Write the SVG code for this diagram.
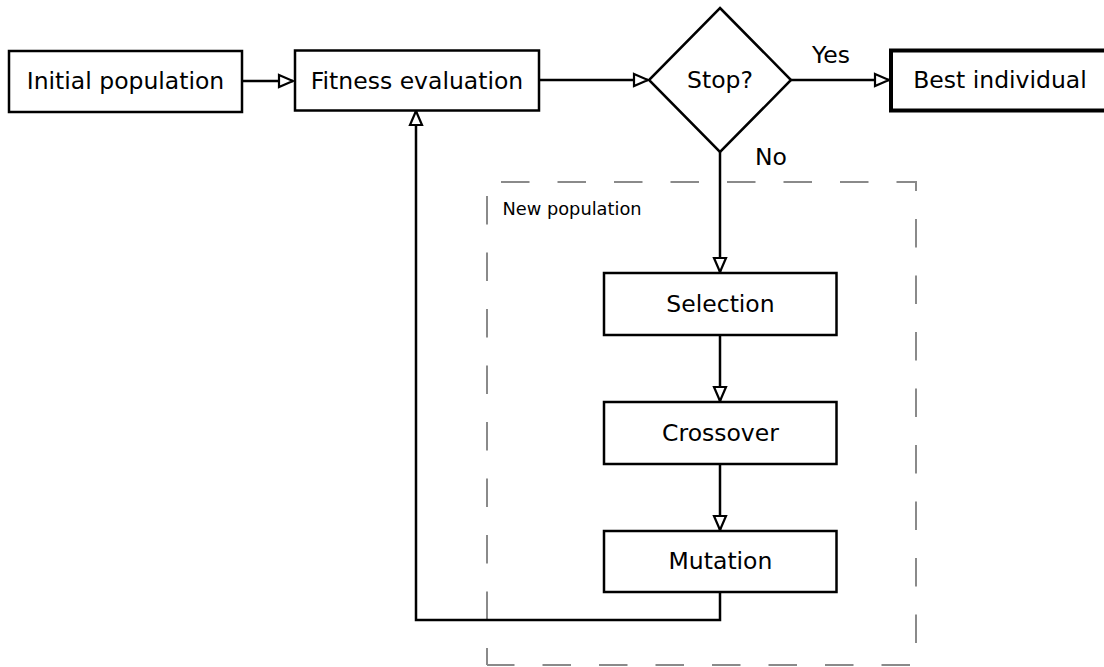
<svg xmlns="http://www.w3.org/2000/svg" width="1104" height="667" viewBox="0 0 1104 667">
  <style>
    .box { fill: #ffffff; stroke: #000000; stroke-width: 2.5; }
    .bold { stroke-width: 4; }
    .lbl { font-family: "DejaVu Sans", "Liberation Sans", sans-serif; font-size: 23.5px; fill: #000000; text-anchor: middle; }
    .small { font-family: "DejaVu Sans", "Liberation Sans", sans-serif; font-size: 17.8px; fill: #000000; }
    .edge { fill: none; stroke: #000000; stroke-width: 2.5; marker-end: url(#head); }
    .plain { fill: none; stroke: #000000; stroke-width: 2.5; }
    .group { fill: none; stroke: #8a8a8a; stroke-width: 2; stroke-dasharray: 28.5 28; stroke-dashoffset: 42.5; }
  </style>
  <defs>
    <marker id="head" markerUnits="userSpaceOnUse" viewBox="0 0 18 16" markerWidth="18" markerHeight="16" refX="16" refY="8" orient="auto">
      <path d="M2,2 L16,8 L2,14 Z" fill="#ffffff" stroke="#000000" stroke-width="2.2" stroke-linejoin="miter"/>
    </marker>
  </defs>

  <!-- cluster frame: top/right/bottom and left side dashed separately -->
  <g id="new-population">
    <path class="group" d="M487,182 H916 V665 H487 M487,182 V665"/>
    <text class="small" x="502.5" y="215">New population</text>
  </g>

  <g id="connectors">
    <path class="edge" d="M242,81 H293"/>
    <path class="edge" d="M539,80 H648"/>
    <path class="edge" d="M791,80 H889"/>
    <path class="edge" d="M720,152 V272"/>
    <path class="edge" d="M720,335 V401"/>
    <path class="edge" d="M720,464 V530"/>
    <path class="edge" d="M720,592 V620 H416 V111"/>
    <text class="lbl" x="831" y="63">Yes</text>
    <text class="lbl" x="771" y="165">No</text>
  </g>

  <g id="initial">
    <rect class="box" x="9" y="51" width="233" height="61"/>
    <text class="lbl" x="125.5" y="89">Initial population</text>
  </g>

  <g id="fitness">
    <rect class="box" x="295" y="50.5" width="244" height="60"/>
    <text class="lbl" x="417" y="88.5">Fitness evaluation</text>
  </g>

  <g id="stop">
    <polygon class="box" points="720,8 791,80 720,152 649,80"/>
    <text class="lbl" x="720" y="88">Stop?</text>
  </g>

  <g id="best">
    <rect class="box bold" x="891" y="50.5" width="225" height="60"/>
    <text class="lbl" x="1000" y="88">Best individual</text>
  </g>

  <g id="selection">
    <rect class="box" x="604" y="273" width="232.5" height="62"/>
    <text class="lbl" x="720.5" y="312">Selection</text>
  </g>

  <g id="crossover">
    <rect class="box" x="604" y="402" width="232.5" height="62"/>
    <text class="lbl" x="720.5" y="441">Crossover</text>
  </g>

  <g id="mutation">
    <rect class="box" x="604" y="531" width="232.5" height="61"/>
    <text class="lbl" x="720.5" y="569">Mutation</text>
  </g>
</svg>
